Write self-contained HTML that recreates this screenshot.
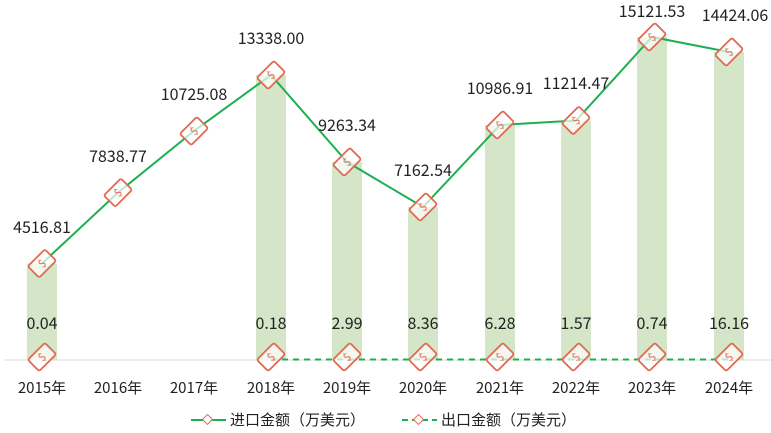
<!DOCTYPE html><html><head><meta charset="utf-8"><style>body{margin:0;background:#fff}svg{display:block;font-family:"Noto Sans CJK SC","Liberation Sans",sans-serif}</style></head><body>
<svg width="771" height="433" viewBox="0 0 771 433">
<defs><g id="m"><g transform="rotate(-45)"><rect x="-12" y="-8" width="24" height="16" rx="2" fill="#fff" fill-opacity="0.7" stroke="#e06a50" stroke-width="1.8"/><text x="0" y="4" font-size="11" text-anchor="middle" fill="#e06a50">$</text></g></g></defs>
<g fill="#d5e5c8">
<rect x="27" y="263.5" width="30" height="96.5"/>
<rect x="256" y="75" width="30" height="285"/>
<rect x="332" y="162" width="30" height="198"/>
<rect x="408" y="207" width="30" height="153"/>
<rect x="485" y="125" width="30" height="235"/>
<rect x="561" y="120.5" width="30" height="239.5"/>
<rect x="637" y="37" width="30" height="323"/>
<rect x="714" y="52" width="30" height="308"/>
</g>
<line x1="4" y1="360" x2="771" y2="360" stroke="#d9d9d9"/>
<polyline fill="none" stroke="#1cb050" stroke-width="2" points="42,263.5 118,192.6 194,131 271,75 347,162 423,207 500,125 576,120.5 652,37 729,52"/>
<line x1="271" y1="359.5" x2="729" y2="359.5" stroke="#1cb050" stroke-width="2" stroke-dasharray="6,5"/>
<g>
<use href="#m" x="42" y="263.5"/><use href="#m" x="118" y="192.6"/><use href="#m" x="194" y="131"/><use href="#m" x="271" y="75"/><use href="#m" x="347" y="162"/><use href="#m" x="423" y="207"/><use href="#m" x="500" y="125"/><use href="#m" x="576" y="120.5"/><use href="#m" x="652" y="37"/><use href="#m" x="729" y="52"/>
<use href="#m" x="42" y="357"/><use href="#m" x="271" y="357"/><use href="#m" x="347" y="357"/><use href="#m" x="423" y="357"/><use href="#m" x="500" y="357"/><use href="#m" x="576" y="357"/><use href="#m" x="652" y="357"/><use href="#m" x="729" y="357"/>
</g>
<g font-size="16" fill="#222" text-anchor="middle">
<text x="42" y="233">4516.81</text><text x="118" y="162">7838.77</text><text x="194" y="100">10725.08</text><text x="271" y="44">13338.00</text><text x="347" y="131">9263.34</text><text x="423" y="176">7162.54</text><text x="500" y="94">10986.91</text><text x="576" y="89">11214.47</text><text x="652" y="17">15121.53</text><text x="735" y="21">14424.06</text>
<text x="42" y="329">0.04</text><text x="271" y="329">0.18</text><text x="347" y="329">2.99</text><text x="423" y="329">8.36</text><text x="500" y="329">6.28</text><text x="576" y="329">1.57</text><text x="652" y="329">0.74</text><text x="729" y="329">16.16</text>
</g>
<g font-size="15" fill="#222" text-anchor="middle">
<text x="42" y="393">2015年</text><text x="118" y="393">2016年</text><text x="194" y="393">2017年</text><text x="271" y="393">2018年</text><text x="347" y="393">2019年</text><text x="423" y="393">2020年</text><text x="500" y="393">2021年</text><text x="576" y="393">2022年</text><text x="652" y="393">2023年</text><text x="729" y="393">2024年</text>
</g>
<line x1="191" y1="420" x2="226" y2="420" stroke="#1cb050" stroke-width="2"/>
<rect x="204" y="416" width="7" height="7" transform="rotate(45 207.5 419.5)" fill="#fff" stroke="#e06a50"/>
<text x="230" y="425" font-size="15" fill="#222">进口金额（万美元）</text>
<line x1="402" y1="420" x2="437" y2="420" stroke="#1cb050" stroke-width="2" stroke-dasharray="6,4"/>
<rect x="415" y="416" width="7" height="7" transform="rotate(45 418.5 419.5)" fill="#fff" stroke="#e06a50"/>
<text x="441" y="425" font-size="15" fill="#222">出口金额（万美元）</text>
</svg></body></html>
